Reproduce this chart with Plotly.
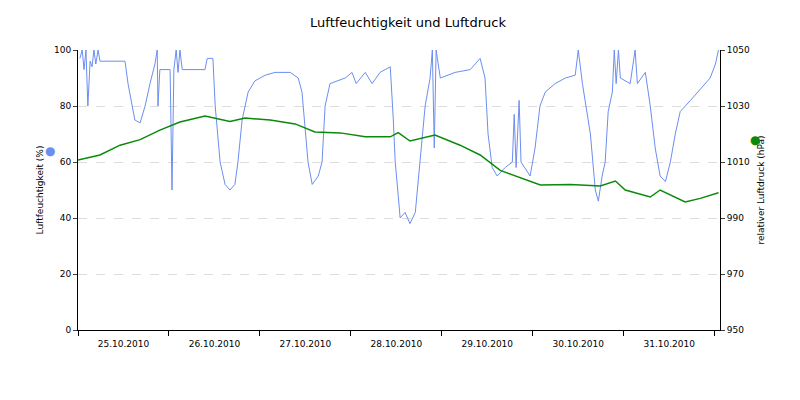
import pandas as pd
import plotly.graph_objects as go

start = pd.Timestamp("2010-10-25 00:00")

hum_hours = [0.5,1.1,1.6,2.1,2.6,3.2,3.7,4.2,4.7,5.3,5.8,12.4,13.2,14.3,15.0,16.4,17.7,19.0,20.3,20.9,21.1,21.6,24.3,24.8,25.3,25.9,26.4,26.9,27.5,33.5,34.1,35.6,36.2,37.5,38.8,40.1,41.4,42.2,43.3,44.9,46.7,49.4,52.0,56.0,58.1,59.1,60.7,61.8,63.4,64.4,65.2,66.5,70.5,72.3,73.4,75.8,77.6,79.7,82.4,83.2,83.7,84.5,85.0,86.3,87.6,89.0,90.3,91.6,92.9,93.5,94.0,94.5,95.6,99.5,103.5,106.1,107.4,108.2,109.3,110.6,112.7,114.6,115.1,115.6,116.4,116.9,119.3,120.6,121.2,121.9,123.3,125.9,128.6,131.2,132.0,133.1,135.2,136.5,137.3,138.3,139.1,139.9,141.0,141.5,142.0,142.6,143.1,145.7,147.0,147.6,149.7,151.0,152.3,153.6,155.0,156.3,157.6,158.9,161.6,164.2,166.8,168.2,169.0]
hum_values = [97,100,93,100,80,96,94,100,95,100,96,96,88,80,75,74,80,88,95,100,80,93,93,50,93,100,92,100,93,93,97,97,80,60,52,50,52,60,75,85,89,91,92,92,90,85,60,52,55,60,80,88,90,92,88,92,88,92,94,75,60,48,40,42,38,42,62,80,90,100,65,100,90,92,93,97,90,70,58,55,58,60,77,58,82,60,55,65,72,80,85,88,90,91,100,88,70,50,46,55,60,78,85,100,88,100,90,88,100,88,92,80,65,55,53,60,70,78,82,86,90,95,100]

pres_hours = [0,5.8,11.1,16.4,21.6,26.9,33.5,40.1,44.1,50.7,57.3,62.5,69.2,75.8,82.4,84.5,87.6,94.2,100.8,106.1,111.4,116.7,122.0,129.9,137.8,141.8,144.4,151.0,153.6,160.2,164.2,169.0]
pres_values = [1010.7,1012.5,1016,1018,1021.4,1024.3,1026.4,1024.5,1025.7,1025,1023.6,1020.7,1020.4,1019,1019,1020.5,1017.5,1019.6,1016,1012.5,1007,1004.3,1001.8,1002,1001.4,1003.2,1000,997.5,1000,995.7,997,999]

hum_x = [start + pd.Timedelta(hours=h) for h in hum_hours]
pres_x = [start + pd.Timedelta(hours=h) for h in pres_hours]

fig = go.Figure()
fig.add_trace(go.Scatter(x=hum_x, y=hum_values, mode="lines", line=dict(color="#6c8ef0", width=1), name="Luftfeuchtigkeit"))
fig.add_trace(go.Scatter(x=pres_x, y=pres_values, mode="lines", line=dict(color="#0a8a0a", width=1.5), name="relativer Luftdruck", yaxis="y2"))

f = dict(family="DejaVu Sans", size=9, color="#000")
fig.update_layout(
    width=800, height=400, paper_bgcolor="white", plot_bgcolor="white",
    margin=dict(l=70, r=88, t=42, b=78), showlegend=False,
    font=f,
    title=dict(text="Luftfeuchtigkeit und Luftdruck", x=0.5, y=0.975, xanchor="center", font=dict(family="DejaVu Sans", size=13)),
    xaxis=dict(type="date", range=[start, start + pd.Timedelta(hours=169.4)], dtick=86400000, tick0=start,
               tickformat="%d.%m.%Y", ticklabelmode="period", ticks="outside", ticklen=5, tickcolor="#000",
               showline=True, linecolor="#000", showgrid=False, zeroline=False, tickfont=f),
    yaxis=dict(range=[0, 100], dtick=20, showgrid=True, gridcolor="#dddddd", griddash="dash", zeroline=False,
               showline=True, linecolor="#000", ticks="outside", ticklen=4, tickfont=f,
               title=dict(text="Luftfeuchtigkeit (%)", font=f, standoff=8)),
    yaxis2=dict(range=[950, 1050], tick0=950, dtick=20, overlaying="y", side="right", showgrid=False, zeroline=False,
                showline=True, linecolor="#000", ticks="outside", ticklen=4, tickfont=f,
                title=dict(text="relativer Luftdruck (hPa)", font=f, standoff=8)),
)
fig.add_annotation(x=-0.055, y=0.67, xref="paper", yref="paper", text="●", showarrow=False, font=dict(size=12, color="#6c8ef0"))
fig.add_annotation(x=1.066, y=0.71, xref="paper", yref="paper", text="●", showarrow=False, font=dict(size=12, color="#0a8a0a"))
fig.write_html("out.html")
